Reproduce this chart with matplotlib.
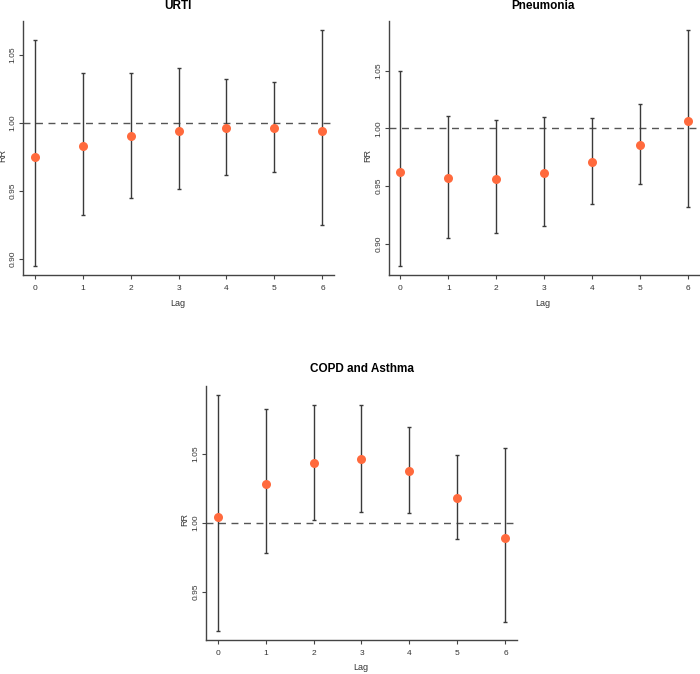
import numpy as np
import matplotlib
matplotlib.use("Agg")
import matplotlib.pyplot as plt

# lags and relative risks
lags = [0, 1, 2, 3, 4, 5, 6]

urti_rr = [0.975, 0.983, 0.990, 0.994, 0.996, 0.996, 0.994]
urti_lo = [0.895, 0.932, 0.945, 0.951, 0.962, 0.964, 0.925]
urti_hi = [1.061, 1.037, 1.037, 1.040, 1.032, 1.030, 1.068]

pneu_rr = [0.962, 0.957, 0.956, 0.961, 0.971, 0.986, 1.006]
pneu_lo = [0.881, 0.905, 0.909, 0.915, 0.934, 0.952, 0.932]
pneu_hi = [1.050, 1.011, 1.007, 1.010, 1.009, 1.021, 1.085]

copd_rr = [1.004, 1.028, 1.043, 1.046, 1.037, 1.018, 0.989]
copd_lo = [0.922, 0.978, 1.002, 1.008, 1.007, 0.988, 0.928]
copd_hi = [1.092, 1.082, 1.085, 1.085, 1.069, 1.049, 1.054]

titles = ["URTI", "Pneumonia", "COPD and Asthma"]
yticks = [[0.90, 0.95, 1.00, 1.05], [0.90, 0.95, 1.00, 1.05], [0.95, 1.00, 1.05]]

plt.rcParams['font.family'] = ['Liberation Sans', 'DejaVu Sans']

fig = plt.figure(figsize=(7, 6.74), dpi=100)
W, H = 700, 674
# left, top, right, bottom of each plot box in pixels
boxes = [(23, 21, 334, 275), (389, 21, 699, 275), (206, 386, 517, 640)]
# title, Lag and RR label positions in pixels (x, y)
title_pos = [(178, 6), (543, 6), (362, 369)]
lag_pos = [(178, 304), (543, 304), (361, 668)]
rr_pos = [(3, 155), (368, 155), (185, 519)]

data = [(urti_rr, urti_lo, urti_hi), (pneu_rr, pneu_lo, pneu_hi), (copd_rr, copd_lo, copd_hi)]

def fx(px):
    return px / W

def fy(py):
    return 1 - py / H

for k in range(3):
    l, t, r, b = boxes[k]
    ax = fig.add_axes([l / W, 1 - b / H, (r - l) / W, (b - t) / H])
    rr, lo, hi = data[k]
    rr = np.array(rr); lo = np.array(lo); hi = np.array(hi)
    ax.errorbar(lags, rr, yerr=[rr - lo, hi - rr], fmt='none', ecolor='#3a3a3a',
                elinewidth=1.0, capsize=1.3, capthick=1.0, zorder=2)
    ax.plot(lags, rr, 'o', color='#ff6a3d', markersize=6.5, markeredgewidth=0, zorder=3)
    ax.axhline(1.0, color='#555555', linestyle=(0, (5, 4)), linewidth=1.0, zorder=1)

    span = max(hi) - min(lo)
    ax.set_ylim(min(lo) - 0.04 * span, max(hi) + 0.04 * span)
    ax.set_xlim(-0.24, 6.24)
    ax.set_xticks(lags)
    ax.set_yticks(yticks[k])
    ax.set_yticklabels(["%.2f" % v for v in yticks[k]], rotation=90, va='center')
    ax.spines['top'].set_visible(False)
    ax.spines['right'].set_visible(False)
    for s in ['left', 'bottom']:
        ax.spines[s].set_color('#444444')
        ax.spines[s].set_linewidth(1.0)
    ax.tick_params(axis='both', labelsize=6, length=3, width=0.8, color='#444444',
                   labelcolor='#333333')
    ax.tick_params(axis='y', pad=1.5)
    ax.tick_params(axis='x', pad=4)

    fig.text(fx(title_pos[k][0]), fy(title_pos[k][1]), titles[k], fontsize=8.5,
             fontweight='bold', ha='center', va='center')
    fig.text(fx(lag_pos[k][0]), fy(lag_pos[k][1]), "Lag", fontsize=6.5,
             color='#333333', ha='center', va='center')
    fig.text(fx(rr_pos[k][0]), fy(rr_pos[k][1]), "RR", fontsize=6.5, rotation=90,
             color='#333333', ha='center', va='center')

fig.savefig("out.png", dpi=100)
